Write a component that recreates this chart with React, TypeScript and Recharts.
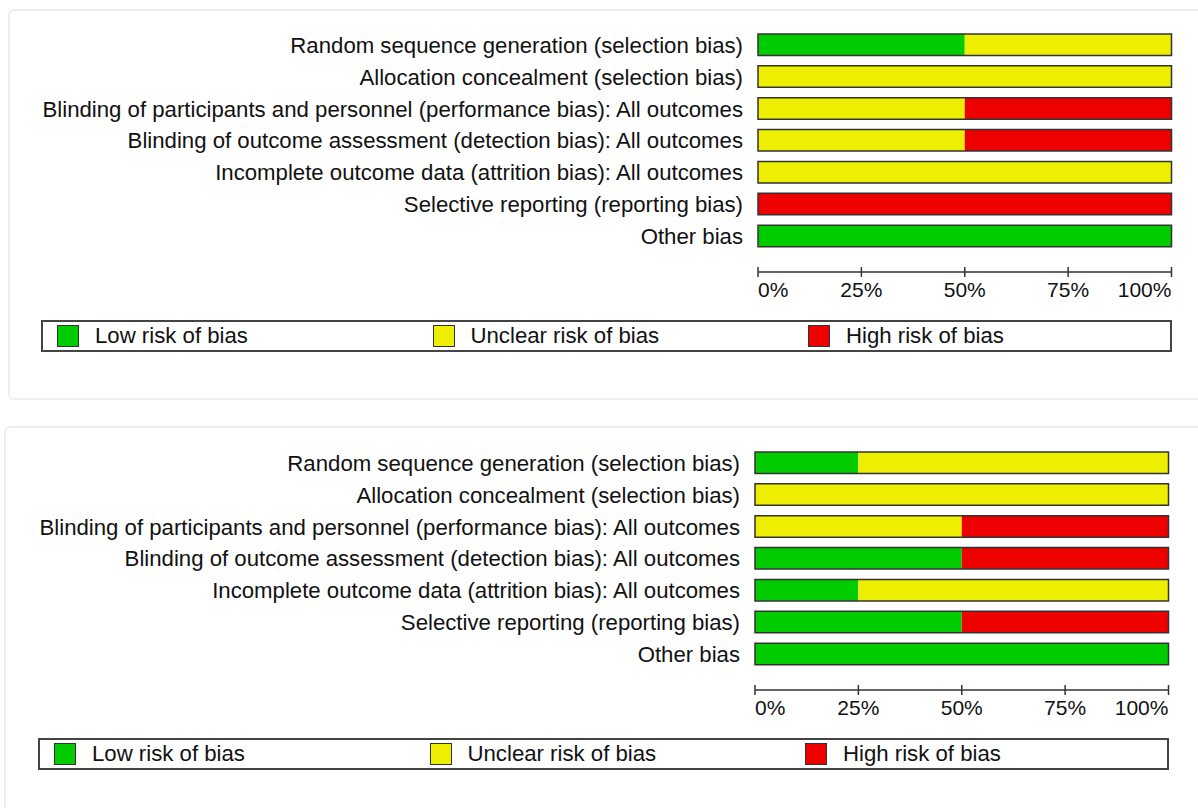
import React from "react"
import { BarChart, Bar, XAxis, YAxis, Legend } from "recharts"

const categories = [
  "Random sequence generation (selection bias)",
  "Allocation concealment (selection bias)",
  "Blinding of participants and personnel (performance bias): All outcomes",
  "Blinding of outcome assessment (detection bias): All outcomes",
  "Incomplete outcome data (attrition bias): All outcomes",
  "Selective reporting (reporting bias)",
  "Other bias",
]

// percentages per domain, first chart
const lowTop = [50, 0, 0, 0, 0, 0, 100]
const unclearTop = [50, 100, 50, 50, 100, 0, 0]
const highTop = [0, 0, 50, 50, 0, 100, 0]

// second chart
const lowBottom = [25, 0, 0, 50, 25, 50, 100]
const unclearBottom = [75, 100, 50, 0, 75, 0, 0]
const highBottom = [0, 0, 50, 50, 0, 50, 0]

const tickValues = [0, 25, 50, 75, 100]
const legendLabels = ["Low risk of bias", "Unclear risk of bias", "High risk of bias"]
const COLORS = ["#00cc00", "#eeee00", "#ee0000"]

const FONT = '"Liberation Sans", Arial, sans-serif'
const FONT_SIZE = 22.2

function buildRows(low: number[], unclear: number[], high: number[]) {
  return categories.map((name, i) => ({
    name,
    low: low[i],
    unclear: unclear[i],
    high: high[i],
    total: low[i] + unclear[i] + high[i],
  }))
}

const PercentTick = ({ x, y, payload, index }: any) => {
  const anchor = index === 0 ? "start" : index === tickValues.length - 1 ? "end" : "middle"
  return (
    <g>
      <line x1={x} x2={x} y1={y - 5} y2={y + 5} stroke="#333" strokeWidth={1.5} />
      <text x={x} y={y + 25} textAnchor={anchor} fill="#111" fontSize={21} fontFamily={FONT}>
        {payload.value}%
      </text>
    </g>
  )
}

const LegendBox = () => (
  <div
    style={{
      boxSizing: "border-box",
      height: 32,
      border: "2px solid #444",
      background: "#fff",
      display: "flex",
      alignItems: "center",
      fontFamily: FONT,
      fontSize: FONT_SIZE,
      color: "#111",
    }}
  >
    {legendLabels.map((label, i) => (
      <div key={label} style={{ flex: 1, display: "flex", alignItems: "center", paddingLeft: 14 }}>
        <div style={{ width: 20, height: 20, border: "1.5px solid #333", background: COLORS[i], marginRight: 16 }} />
        <span>{label}</span>
      </div>
    ))}
  </div>
)

function RiskPanel({ data, dx, dy }: { data: any[]; dx: number; dy: number }) {
  const padding = { top: 0, bottom: 20 }
  return (
    <div style={{ position: "absolute", left: dx, top: dy, fontFamily: FONT }}>
      <BarChart
        width={1198}
        height={360}
        data={data}
        layout="vertical"
        margin={{ top: 29, right: 26.5, left: 0, bottom: 8 }}
      >
        <XAxis
          type="number"
          domain={[0, 100]}
          ticks={tickValues}
          interval={0}
          tickLine={false}
          tickSize={0}
          tickMargin={0}
          height={48}
          axisLine={{ stroke: "#333", strokeWidth: 1.5 }}
          tick={<PercentTick />}
        />
        <YAxis
          type="category"
          dataKey="name"
          width={758}
          axisLine={false}
          tickLine={false}
          tickSize={0}
          tickMargin={15}
          interval={0}
          padding={padding}
          tick={{ fill: "#111", fontSize: FONT_SIZE, fontFamily: FONT }}
        />
        <YAxis yAxisId="frame" type="category" dataKey="name" hide padding={padding} />
        <Bar dataKey="low" stackId="r" fill={COLORS[0]} barSize={21.5} isAnimationActive={false} />
        <Bar dataKey="unclear" stackId="r" fill={COLORS[1]} barSize={21.5} isAnimationActive={false} />
        <Bar dataKey="high" stackId="r" fill={COLORS[2]} barSize={21.5} isAnimationActive={false} />
        <Bar
          dataKey="total"
          yAxisId="frame"
          fill="none"
          stroke="#333"
          strokeWidth={1.5}
          barSize={21.5}
          isAnimationActive={false}
          legendType="none"
        />
        <Legend
          verticalAlign="bottom"
          content={<LegendBox />}
          wrapperStyle={{ left: 41, width: 1130.5 }}
        />
      </BarChart>
    </div>
  )
}

const cardStyle: React.CSSProperties = {
  position: "absolute",
  width: 1200,
  border: "2px solid #eeeeee",
  borderRadius: 6,
  boxSizing: "border-box",
  background: "#fff",
}

export default function App() {
  return (
    <div style={{ position: "absolute", left: 0, top: 0, width: 1198, height: 808, overflow: "hidden", background: "#fff" }}>
      <div style={{ ...cardStyle, left: 8, top: 9, height: 391 }} />
      <div style={{ ...cardStyle, left: 4, top: 426, height: 420 }} />
      <RiskPanel data={buildRows(lowTop, unclearTop, highTop)} dx={0} dy={0} />
      <RiskPanel data={buildRows(lowBottom, unclearBottom, highBottom)} dx={-3} dy={417.5} />
    </div>
  )
}
